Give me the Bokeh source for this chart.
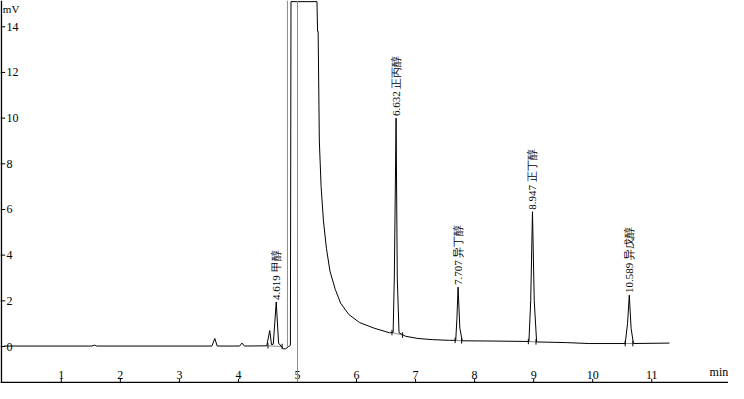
from bokeh.plotting import figure
from bokeh.models import Range1d, Span
from bokeh.embed import file_html
from bokeh.resources import INLINE
from bokeh.core.properties import value
import math

# ---- chromatogram trace (time in min, signal in mV) ----
trace_t = [0.03, 1.52, 1.56, 1.60, 3.55, 3.60, 3.64, 4.02, 4.06, 4.10,
           4.48, 4.53, 4.56, 4.59, 4.64, 4.68, 4.72, 4.76, 4.80, 4.85,
           4.88, 4.89, 5.33, 5.34, 5.35, 5.37, 5.40, 5.44, 5.49, 5.55,
           5.64, 5.73, 5.87, 6.05, 6.30, 6.56, 6.62, 6.64, 6.67, 6.69,
           6.72, 6.83, 7.04, 7.29, 7.57, 7.68, 7.70, 7.72, 7.75, 7.79,
           8.28, 8.92, 8.95, 8.98, 9.01, 9.05, 9.56, 9.94, 10.55, 10.59,
           10.62, 10.65, 10.69, 11.30]
trace_v = [0.02, 0.02, 0.06, 0.02, 0.02, 0.35, 0.02, 0.02, 0.15, 0.02,
           0.03, 0.70, 0.08, 0.10, 1.95, 0.15, 0.02, -0.10, -0.10, 0.00,
           0.05, 15.10, 15.10, 13.80, 13.80, 9.00, 7.00, 5.50, 4.30, 3.30,
           2.50, 1.90, 1.40, 1.05, 0.80, 0.60, 0.62, 3.00, 10.00, 3.00,
           0.60, 0.45, 0.35, 0.30, 0.27, 0.27, 1.20, 2.60, 0.80, 0.25,
           0.24, 0.22, 2.00, 5.90, 2.00, 0.20, 0.17, 0.13, 0.13, 1.00,
           2.25, 0.80, 0.13, 0.15]

# ---- labelled peaks ----
peak_t = [4.64, 6.67, 7.72, 8.98, 10.62]
peak_v = [1.95, 10.00, 2.60, 5.90, 2.25]
peak_labels = ["4.619  甲醇", "6.632  正丙醇", "7.707  异丁醇", "8.947  正丁醇", "10.589  异戊醇"]

# ---- integration baselines (grey) with start / end marks ----
base_t0 = [4.50, 6.60, 7.67, 8.91, 10.55]
base_t1 = [4.74, 6.78, 7.78, 9.04, 10.68]
base_v0 = [0.03, 0.61, 0.27, 0.22, 0.13]
base_v1 = [0.00, 0.50, 0.25, 0.20, 0.13]

# ---- axes ----
x_ticks = [1, 2, 3, 4, 5, 6, 7, 8, 9, 10, 11]
x_tick_labels = ["1", "2", "3", "4", "5", "6", "7", "8", "9", "10", "11"]
y_ticks = [0, 2, 4, 6, 8, 10, 12, 14]
y_tick_labels = ["0", "2", "4", "6", "8", "10", "12", "14"]

X0, X1 = -0.03, 12.30
Y0, Y1 = -1.62, 15.15

p = figure(width=728, height=383, output_backend="svg", toolbar_location=None,
           x_range=Range1d(X0, X1), y_range=Range1d(Y0, Y1),
           x_axis_location=None, y_axis_location=None, min_border=0)
p.outline_line_color = None
p.xgrid.visible = False
p.ygrid.visible = False
p.background_fill_color = "white"
p.border_fill_color = "white"

FONT = value("Liberation Serif")
GREY = "#8c8c8c"

# grey marker lines near the solvent front
p.add_layout(Span(location=5.0, dimension="height", line_color=GREY, line_width=1))
p.segment(x0=[4.83], y0=[0.0], x1=[4.83], y1=[Y1], line_color=GREY, line_width=1)

# integration baselines
p.segment(x0=base_t0, y0=base_v0, x1=base_t1, y1=base_v1, line_color=GREY, line_width=1)
p.segment(x0=base_t0, y0=[v - 0.12 for v in base_v0], x1=base_t0, y1=[v + 0.12 for v in base_v0],
          line_color="black", line_width=1)
p.segment(x0=base_t1, y0=[v - 0.12 for v in base_v1], x1=base_t1, y1=[v + 0.12 for v in base_v1],
          line_color="black", line_width=1)

# trace
p.line(trace_t, trace_v, line_color="black", line_width=1)

# axis lines
p.add_layout(Span(location=X0 + 0.015, dimension="height", line_color="black", line_width=1.5))
p.add_layout(Span(location=Y0 + 0.04, dimension="width", line_color="black", line_width=1.5))

# ticks
p.segment(x0=x_ticks, y0=[Y0] * len(x_ticks), x1=x_ticks, y1=[Y0 + 0.2] * len(x_ticks),
          line_color="black", line_width=1)
p.segment(x0=[X0] * len(y_ticks), y0=y_ticks, x1=[X0 + 0.08] * len(y_ticks), y1=y_ticks,
          line_color="black", line_width=1)

p.text(x=x_ticks, y=[Y0 + 0.18] * len(x_ticks), text=x_tick_labels, text_font=FONT,
       text_font_size="12px", text_align="center", text_baseline="bottom", text_color="black")
p.text(x=[X0 + 0.1] * len(y_ticks), y=y_ticks, text=y_tick_labels, text_font=FONT,
       text_font_size="12px", text_align="left", text_baseline="middle", text_color="black")

p.text(x=[X0 + 0.04], y=[Y1 - 0.12], text=["mV"], text_font=FONT, text_font_size="11px",
       text_align="left", text_baseline="top", text_color="black")
p.text(x=[X1 - 0.32], y=[Y0 + 0.18], text=["min"], text_font=FONT, text_font_size="12px",
       text_align="left", text_baseline="bottom", text_color="black")

# peak labels
p.text(x=peak_t, y=peak_v, text=peak_labels, angle=math.pi / 2, y_offset=-2,
       text_font=FONT, text_font_size="11px", text_align="left", text_baseline="middle",
       text_color="black")

open("out.html", "w").write(file_html(p, INLINE))
